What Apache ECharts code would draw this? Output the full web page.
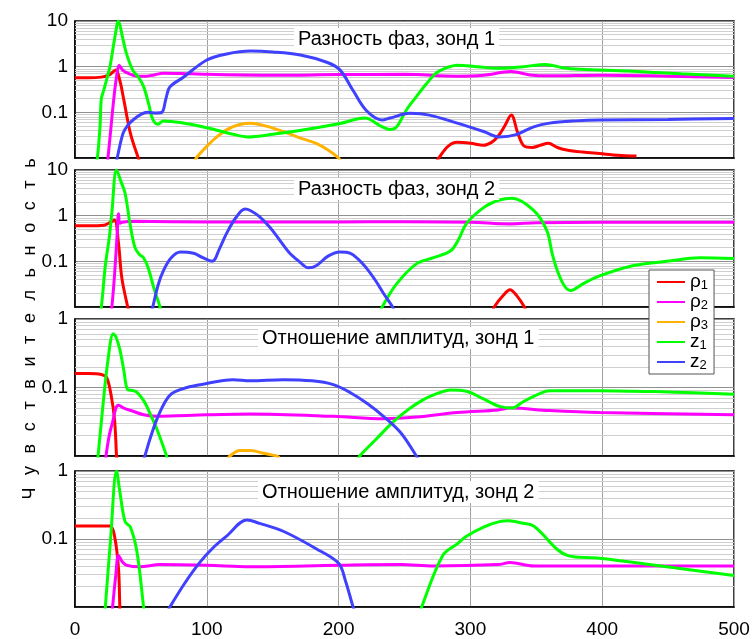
<!DOCTYPE html>
<html><head><meta charset="utf-8">
<script src="https://cdn.jsdelivr.net/npm/echarts@6/dist/echarts.min.js"></script>
<style>html,body{margin:0;padding:0;background:#fff}#c{width:755px;height:639px}</style>
</head><body><div id="c"></div>
<script>
// ---------- data ----------
const xTicks = [0, 100, 200, 300, 400, 500];
const yTicksTop = ['10', '1', '0.1'];
const yTicksBottom = ['1', '0.1'];
const seriesNames = ['ρ1', 'ρ2', 'ρ3', 'z1', 'z2'];
const panelTitles = ['Разность фаз, зонд 1', 'Разность фаз, зонд 2', 'Отношение амплитуд, зонд 1', 'Отношение амплитуд, зонд 2'];
const yAxisTitle = 'Чувствительность';

// panel 1
const p1_rho1a = [[0,0.57],[10,0.57],[20,0.59],[26,0.66],[31,0.85],[34,0.5],[37,0.19],[42,0.035],[48,0.01],[50,0.007]];
const p1_rho1b = [[274,0.008],[276,0.01],[283,0.018],[290,0.022],[300,0.021],[310,0.019],[316,0.022],[321,0.03],[326,0.05],[331,0.087],[336,0.035],[341,0.018],[347,0.017],[353,0.019],[359,0.021],[366,0.017],[373,0.015],[385,0.0135],[398,0.0125],[412,0.0115],[426,0.011]];
const p1_rho2 = [[24,0.007],[25,0.01],[29,0.15],[31.5,0.6],[33.5,1.07],[36,0.85],[40,0.72],[47,0.62],[54,0.62],[60,0.66],[67,0.72],[80,0.71],[100,0.68],[150,0.65],[200,0.67],[250,0.68],[290,0.62],[310,0.65],[331,0.78],[345,0.66],[360,0.63],[400,0.65],[450,0.62],[500,0.58]];
const p1_rho3 = [[91,0.008],[92,0.01],[100,0.018],[107,0.028],[116,0.043],[125,0.054],[133,0.058],[145,0.05],[158,0.038],[170,0.028],[183,0.021],[192,0.015],[200,0.01],[202,0.008]];
const p1_z1 = [[16,0.008],[17,0.01],[19,0.05],[20,0.2],[22,0.32],[26.5,1.0],[30,4],[33,10],[36,4.5],[39,1.95],[44,0.82],[48,0.6],[52,0.37],[56,0.15],[59,0.07],[63,0.055],[67,0.065],[80,0.06],[100,0.046],[120,0.033],[131,0.029],[150,0.033],[175,0.042],[200,0.056],[220,0.075],[232,0.05],[239,0.042],[244,0.048],[252,0.12],[259,0.22],[266,0.4],[274,0.72],[282,0.95],[290,1.08],[305,1.0],[321,0.92],[340,1.0],[357,1.12],[370,0.95],[383,0.88],[420,0.8],[460,0.7],[500,0.62]];
const p1_z2 = [[31,0.007],[32,0.01],[36.5,0.035],[40,0.052],[44,0.068],[50,0.09],[55,0.1],[62,0.097],[66,0.1],[69,0.2],[72,0.36],[82,0.58],[100,1.4],[115,1.9],[133,2.2],[150,2.1],[171,1.8],[191,1.25],[201,0.85],[211,0.3],[221,0.11],[233,0.068],[239,0.075],[254,0.095],[269,0.087],[290,0.058],[310,0.038],[322,0.029],[334,0.032],[348,0.048],[360,0.058],[380,0.065],[398,0.068],[450,0.07],[500,0.073]];

// panel 2
const p2_rho1a = [[0,0.6],[10,0.6],[22,0.62],[27,0.72],[30,0.8],[33,0.25],[35.5,0.044],[40,0.01],[41,0.008]];
const p2_rho1b = [[317,0.008],[318,0.01],[325,0.018],[330,0.024],[335,0.018],[341,0.01],[342,0.008]];
const p2_rho2 = [[27.5,0.008],[28,0.01],[30,0.05],[32,0.4],[33,1.1],[34,0.68],[36,0.72],[45,0.75],[100,0.73],[200,0.73],[250,0.74],[300,0.72],[330,0.66],[350,0.7],[400,0.72],[500,0.72]];
const p2_z1a = [[19,0.008],[20,0.01],[23,0.08],[26,0.33],[28,1.2],[31.5,10],[35,5.5],[38,3.1],[42,0.6],[45.5,0.2],[49,0.14],[52,0.12],[55.5,0.072],[60,0.025],[64.5,0.01],[65,0.008]];
const p2_z1b = [[232,0.008],[233,0.01],[244,0.032],[259,0.088],[272,0.12],[285,0.17],[291,0.3],[297,0.67],[310,1.5],[322,2.2],[331.5,2.4],[348,1.3],[358,0.47],[362,0.15],[366,0.062],[371,0.03],[376,0.023],[386,0.033],[398,0.048],[423,0.08],[449,0.1],[474,0.12],[500,0.115]];
const p2_z2 = [[58,0.008],[59,0.01],[63,0.03],[67,0.062],[73,0.12],[80,0.16],[90,0.15],[97,0.12],[104,0.1],[110,0.2],[115,0.41],[122,0.9],[129,1.4],[133,1.3],[140,0.95],[148,0.55],[155,0.3],[163,0.15],[170,0.1],[177,0.072],[183,0.08],[192,0.13],[201,0.16],[209,0.15],[215,0.11],[221,0.072],[228,0.038],[234,0.02],[241,0.01],[242,0.008]];

// panel 3
const p3_rho1 = [[0,0.16],[10,0.16],[20,0.155],[24,0.14],[27.5,0.075],[30,0.034],[31.5,0.01],[31.7,0.008]];
const p3_rho2 = [[23,0.008],[23.5,0.01],[26,0.02],[29,0.034],[31,0.05],[33,0.055],[37,0.05],[44,0.045],[52,0.04],[62,0.038],[100,0.04],[133,0.041],[196,0.038],[234,0.035],[259,0.037],[290,0.043],[321,0.047],[330,0.05],[360,0.046],[398,0.043],[500,0.04]];
const p3_rho3 = [[116,0.009],[117.5,0.01],[125,0.012],[133,0.012],[143,0.011],[153,0.01],[155,0.0095]];
const p3_z1a = [[17,0.008],[17.5,0.01],[21,0.05],[25,0.25],[29,0.61],[31,0.55],[34,0.36],[37,0.18],[40,0.093],[44,0.09],[47,0.085],[52,0.065],[55.5,0.048],[62,0.025],[69.5,0.01],[70,0.009]];
const p3_z1b = [[215,0.009],[216,0.01],[229,0.018],[241,0.031],[253,0.048],[264,0.066],[275,0.082],[285,0.092],[297,0.088],[310,0.068],[322,0.053],[331.5,0.05],[340,0.062],[348,0.074],[360,0.09],[398,0.09],[450,0.086],[500,0.08]];
const p3_z2 = [[52,0.009],[53,0.01],[57,0.018],[62,0.034],[68,0.06],[73.5,0.082],[85,0.1],[95,0.11],[120,0.13],[133,0.125],[158,0.13],[180,0.125],[196,0.11],[209,0.084],[222,0.058],[234,0.038],[247,0.022],[259,0.01],[260,0.009]];

// panel 4
const p4_rho1 = [[0,0.155],[10,0.155],[26.5,0.155],[30,0.11],[33,0.037],[34,0.01],[34.2,0.008]];
const p4_rho2 = [[28,0.008],[28.5,0.01],[31,0.03],[33,0.057],[36,0.046],[39.5,0.041],[49,0.039],[64.5,0.042],[100,0.041],[133,0.039],[200,0.041],[247,0.042],[272,0.04],[321,0.042],[330,0.045],[348,0.04],[400,0.04],[500,0.04]];
const p4_z1a = [[22.5,0.008],[23,0.01],[27,0.1],[31.5,1.0],[34,0.5],[38,0.18],[42,0.15],[47,0.065],[52,0.01],[52.3,0.008]];
const p4_z1b = [[262,0.008],[263,0.01],[279,0.057],[290,0.085],[297,0.11],[310,0.15],[322,0.18],[329,0.185],[340,0.17],[348,0.155],[374,0.057],[398,0.052],[449,0.039],[500,0.029]];
const p4_z2 = [[71,0.009],[72,0.01],[83,0.022],[95,0.046],[105,0.075],[115,0.11],[130.5,0.19],[140,0.17],[158,0.13],[183,0.072],[200,0.044],[205,0.025],[211,0.01],[212,0.009]];

// ---------- styling / layout ----------
const FONT = "'Liberation Sans', Arial, sans-serif";
const colors = {'ρ1':'#ff0000','ρ2':'#ff00ff','ρ3':'#ffb300','z1':'#00ff00','z2':'#4040ff'};
const gridTops = [21, 170, 319, 471];
const gridH = 137;
const yMax = [10, 10, 1, 1];
const panelSeries = [
  [['ρ1',p1_rho1a],['ρ1',p1_rho1b],['ρ2',p1_rho2],['ρ3',p1_rho3],['z1',p1_z1],['z2',p1_z2]],
  [['ρ1',p2_rho1a],['ρ1',p2_rho1b],['ρ2',p2_rho2],['z1',p2_z1a],['z1',p2_z1b],['z2',p2_z2]],
  [['ρ1',p3_rho1],['ρ2',p3_rho2],['ρ3',p3_rho3],['z1',p3_z1a],['z1',p3_z1b],['z2',p3_z2]],
  [['ρ1',p4_rho1],['ρ2',p4_rho2],['z1',p4_z1a],['z1',p4_z1b],['z2',p4_z2]]
];
const titleLeft = [294, 294, 258, 258];
const titleTop = [28, 178, 327, 481];

const grids = [], xAxes = [], yAxes = [], series = [], titles = [];
for (let i = 0; i < 4; i++) {
  grids.push({left: 75, right: 21, top: gridTops[i], height: gridH, show: true, borderColor: '#000', borderWidth: 1.5, backgroundColor: 'transparent'});
  xAxes.push({type: 'value', gridIndex: i, min: xTicks[0], max: xTicks[xTicks.length-1], interval: 100,
    axisLine: {show: true, lineStyle: {color: '#000', width: 1.5}}, axisTick: {show: false},
    axisLabel: {show: i === 3, color: '#000', fontSize: 19, fontFamily: FONT, margin: 13},
    splitLine: {show: true, lineStyle: {color: '#a0a0a0', width: 1}}});
  const labels = yMax[i] === 10 ? yTicksTop : yTicksBottom;
  yAxes.push({type: 'log', logBase: 10, gridIndex: i, min: 0.01, max: yMax[i],
    axisLine: {show: true, lineStyle: {color: '#000', width: 1.5}}, axisTick: {show: false},
    axisLabel: {color: '#000', fontSize: 19, fontFamily: FONT, margin: 7, showMinLabel: false,
      formatter: function (v) { const s = String(+v.toPrecision(3)); return labels.indexOf(s) >= 0 ? s : ''; }},
    splitLine: {show: true, lineStyle: {color: '#909090', width: 1}}});
  // minor log grid lines (2..9 per decade)
  const minor = [];
  const topExp = Math.round(Math.log10(yMax[i]));
  for (let k = -2; k < topExp; k++) for (let m = 2; m <= 9; m++) minor.push({yAxis: +(m * Math.pow(10, k)).toPrecision(3)});
  series.push({type: 'line', name: '_grid' + i, xAxisIndex: i, yAxisIndex: i, data: [], z: 1, silent: true,
    markLine: {silent: true, z: 1, symbol: 'none', animation: false, label: {show: false},
      lineStyle: {color: '#cfcfcf', width: 1, type: 'solid'}, emphasis: {disabled: true}, data: minor}});
  panelSeries[i].forEach(function (p) {
    series.push({type: 'line', name: p[0], xAxisIndex: i, yAxisIndex: i, data: p[1], smooth: 0.35,
      showSymbol: false, symbol: 'none', clip: true, z: 3, animation: false,
      lineStyle: {color: colors[p[0]], width: 3}, itemStyle: {color: colors[p[0]]}});
  });
  titles.push({text: panelTitles[i], left: titleLeft[i], top: titleTop[i], backgroundColor: '#fff', padding: [1, 4, 1, 4],
    textStyle: {fontSize: 20, fontWeight: 'normal', color: '#000', fontFamily: FONT}});
}

const chart = echarts.init(document.getElementById('c'), null, {renderer: 'canvas'});
chart.setOption({
  animation: false,
  backgroundColor: '#fff',
  title: titles,
  grid: grids, xAxis: xAxes, yAxis: yAxes, series: series,
  legend: {data: seriesNames, orient: 'vertical', left: 649, top: 270, itemGap: 0, itemWidth: 28, itemHeight: 2, icon: 'rect',
    backgroundColor: '#fff', borderColor: '#555', borderWidth: 1, padding: [2, 6, 2, 8], z: 10,
    formatter: function (n) { return '{b|' + n.charAt(0) + '}{s|' + n.slice(1) + '}'; },
    textStyle: {color: '#000', fontFamily: FONT, rich: {b: {fontSize: 19, lineHeight: 19, fontFamily: FONT, color: '#000'}, s: {fontSize: 13, lineHeight: 19, fontFamily: FONT, color: '#000', padding: [7, 0, 0, 0]}}}},
  graphic: [{type: 'text', x: 30, y: 329, rotation: Math.PI / 2, z: 10,
    style: {text: yAxisTitle.split('').join('\u2002\u2009'), font: '18px ' + FONT, fill: '#000', textAlign: 'center', textVerticalAlign: 'middle'}}]
});
</script></body></html>
